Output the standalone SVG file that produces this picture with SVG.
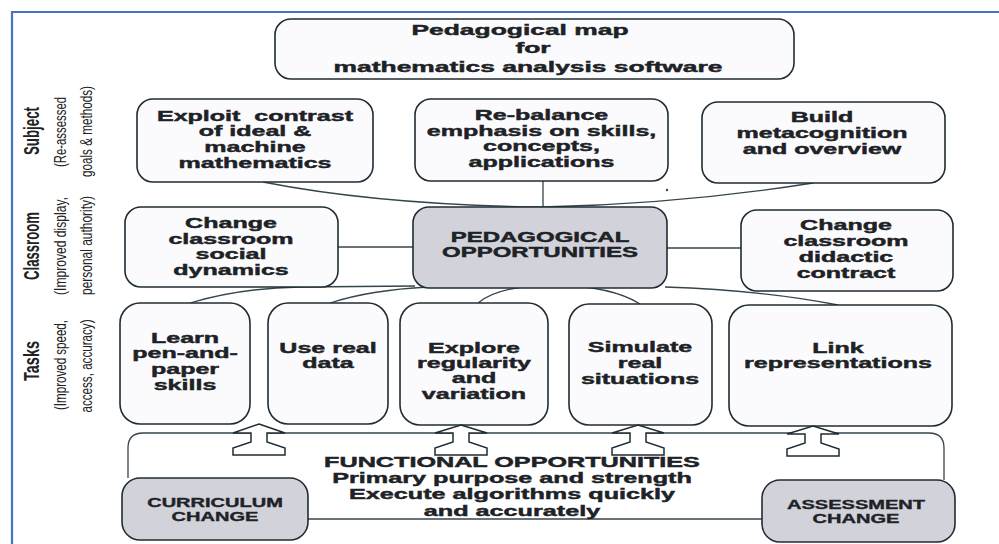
<svg xmlns="http://www.w3.org/2000/svg" width="999" height="544" viewBox="0 0 999 544">
<style>
.bg{fill:#ffffff}
.frame{fill:none;stroke:#4472c4;stroke-width:2.2}
.box{fill:#fbfbfd;stroke:#1f2c32;stroke-width:1.6}
.grey{fill:#d2d2da;stroke:#1f2c32;stroke-width:1.6}
.t{font-family:"Liberation Sans",Arial,sans-serif;font-weight:bold;font-size:15px;fill:#1d2226;stroke:#1d2226;stroke-width:0.45;text-anchor:middle}
.s{font-family:"Liberation Sans",Arial,sans-serif;font-weight:bold;font-size:12px;fill:#1d2226;stroke:#1d2226;stroke-width:0.35;text-anchor:middle}
.lm{font-family:"Liberation Sans",Arial,sans-serif;font-weight:bold;font-size:22px;fill:#222;text-anchor:middle}
.ls{font-family:"Liberation Sans",Arial,sans-serif;font-size:17px;fill:#222;text-anchor:middle}
.conn{fill:none;stroke:#34454c;stroke-width:1.3}
.arrow{fill:#ffffff;stroke:#1f2c32;stroke-width:1.5;stroke-linejoin:miter}
</style>
<rect class="bg" x="0" y="0" width="999" height="544"/>
<path class="frame" d="M12,546 L12,12 L1001,12"/>

<g id="side-labels">
  <text class="lm" transform="translate(39,131) rotate(-90)" textLength="48" lengthAdjust="spacingAndGlyphs">Subject</text>
  <text class="ls" transform="translate(66,132) rotate(-90)" textLength="70" lengthAdjust="spacingAndGlyphs">(Re-assessed</text>
  <text class="ls" transform="translate(92,131.5) rotate(-90)" textLength="91" lengthAdjust="spacingAndGlyphs">goals &amp; methods)</text>
  <text class="lm" transform="translate(39,246) rotate(-90)" textLength="68" lengthAdjust="spacingAndGlyphs">Classroom</text>
  <text class="ls" transform="translate(66,246) rotate(-90)" textLength="98" lengthAdjust="spacingAndGlyphs">(Improved display,</text>
  <text class="ls" transform="translate(92,245.5) rotate(-90)" textLength="99" lengthAdjust="spacingAndGlyphs">personal authority)</text>
  <text class="lm" transform="translate(39,361) rotate(-90)" textLength="40" lengthAdjust="spacingAndGlyphs">Tasks</text>
  <text class="ls" transform="translate(66,365) rotate(-90)" textLength="90" lengthAdjust="spacingAndGlyphs">(Improved speed,</text>
  <text class="ls" transform="translate(92,366) rotate(-90)" textLength="93" lengthAdjust="spacingAndGlyphs">access, accuracy)</text>
</g>

<g id="connectors">
  <path class="conn" d="M263,182 Q380,205 543,207"/>
  <path class="conn" d="M543,181 L543,207"/>
  <path class="conn" d="M813,183 Q680,204 543,207"/>
  <path class="conn" d="M338,247 L413,247"/>
  <path class="conn" d="M667,248 L741,248"/>
  <path class="conn" d="M190,303 Q240,288 300,287 L415,286"/>
  <path class="conn" d="M330,303 Q370,290 428,287"/>
  <path class="conn" d="M478,303 Q498,286 552,285 Q612,286 640,304"/>
  <path class="conn" d="M665,287 Q760,290 838,305"/>
  <path class="conn" d="M128,478 L128,448 Q128,433 143,433 L929,433 Q944,433 944,448 L944,480"/>
  <path class="conn" d="M308,519 L762,519"/>
  <circle cx="667" cy="190" r="1.2" fill="#34454c"/>
</g>

<g id="title">
  <rect class="box" x="275" y="19" width="519" height="60" rx="16"/>
  <g transform="translate(520,0) scale(1.76,1)"><text class="t" x="0" y="35">Pedagogical map</text></g>
  <g transform="translate(533,0) scale(1.76,1)"><text class="t" x="0" y="53">for</text></g>
  <g transform="translate(528,0) scale(1.76,1)"><text class="t" x="0" y="72">mathematics analysis software</text></g>
</g>

<g id="exploit-contrast">
  <rect class="box" x="137" y="99" width="236" height="83" rx="16"/>
  <g transform="translate(255,0) scale(1.67,1)">
    <text class="t" x="0" y="121" xml:space="preserve">Exploit  contrast</text>
    <text class="t" x="0" y="136">of ideal &amp;</text>
    <text class="t" x="0" y="152">machine</text>
    <text class="t" x="0" y="168">mathematics</text>
  </g>
</g>

<g id="rebalance-emphasis">
  <rect class="box" x="415" y="99" width="253" height="82" rx="16"/>
  <g transform="translate(541.5,0) scale(1.67,1)">
    <text class="t" x="0" y="120">Re-balance</text>
    <text class="t" x="0" y="136">emphasis on skills,</text>
    <text class="t" x="0" y="151">concepts,</text>
    <text class="t" x="0" y="167">applications</text>
  </g>
</g>

<g id="build-metacognition">
  <rect class="box" x="702" y="102" width="243" height="81" rx="16"/>
  <g transform="translate(822,0) scale(1.67,1)">
    <text class="t" x="0" y="122">Build</text>
    <text class="t" x="0" y="138">metacognition</text>
    <text class="t" x="0" y="154">and overview</text>
  </g>
</g>

<g id="social-dynamics">
  <rect class="box" x="125" y="207" width="213" height="80" rx="16"/>
  <g transform="translate(231,0) scale(1.67,1)">
    <text class="t" x="0" y="228">Change</text>
    <text class="t" x="0" y="244">classroom</text>
    <text class="t" x="0" y="259">social</text>
    <text class="t" x="0" y="275">dynamics</text>
  </g>
</g>

<g id="pedagogical-opportunities">
  <rect class="grey" x="413" y="207" width="254" height="81" rx="16"/>
  <g transform="translate(540,0) scale(1.6,1)">
    <text class="t" x="0" y="242">PEDAGOGICAL</text>
    <text class="t" x="0" y="257">OPPORTUNITIES</text>
  </g>
</g>

<g id="didactic-contract">
  <rect class="box" x="741" y="210" width="212" height="81" rx="16"/>
  <g transform="translate(846,0) scale(1.67,1)">
    <text class="t" x="0" y="230">Change</text>
    <text class="t" x="0" y="246">classroom</text>
    <text class="t" x="0" y="262">didactic</text>
    <text class="t" x="0" y="278">contract</text>
  </g>
</g>

<g id="learn-skills">
  <rect class="box" x="120" y="303" width="130" height="121" rx="20"/>
  <g transform="translate(185,0) scale(1.67,1)">
    <text class="t" x="0" y="343">Learn</text>
    <text class="t" x="0" y="358">pen-and-</text>
    <text class="t" x="0" y="374">paper</text>
    <text class="t" x="0" y="390">skills</text>
  </g>
</g>

<g id="real-data">
  <rect class="box" x="268" y="303" width="120" height="121" rx="20"/>
  <g transform="translate(328,0) scale(1.67,1)">
    <text class="t" x="0" y="353">Use real</text>
    <text class="t" x="0" y="368">data</text>
  </g>
</g>

<g id="explore-regularity">
  <rect class="box" x="400" y="303" width="148" height="122" rx="20"/>
  <g transform="translate(474,0) scale(1.67,1)">
    <text class="t" x="0" y="353">Explore</text>
    <text class="t" x="0" y="368">regularity</text>
    <text class="t" x="0" y="383">and</text>
    <text class="t" x="0" y="399">variation</text>
  </g>
</g>

<g id="simulate-situations">
  <rect class="box" x="569" y="304" width="143" height="121" rx="20"/>
  <g transform="translate(640,0) scale(1.67,1)">
    <text class="t" x="0" y="352">Simulate</text>
    <text class="t" x="0" y="368">real</text>
    <text class="t" x="0" y="384">situations</text>
  </g>
</g>

<g id="link-representations">
  <rect class="box" x="729" y="305" width="223" height="121" rx="20"/>
  <g transform="translate(838,0) scale(1.67,1)">
    <text class="t" x="0" y="353">Link</text>
    <text class="t" x="0" y="368">representations</text>
  </g>
</g>

<g id="arrows">
  <polygon class="arrow" points="259,424 285,433 267,433 267,442 285,448 285,455 233,455 233,448 251,442 251,433 233,433"/>
  <polygon class="arrow" points="461,425 487,433 469,433 469,442 487,448 487,455 435,455 435,448 453,442 453,433 435,433"/>
  <polygon class="arrow" points="638,425 664,433 646,433 646,442 664,448 664,455 612,455 612,448 630,442 630,433 612,433"/>
  <polygon class="arrow" points="813,426 839,434 821,434 821,443 839,449 839,456 787,456 787,449 805,443 805,434 787,434"/>
</g>

<g id="functional-opportunities">
  <g transform="translate(512,0) scale(1.68,1)">
    <text class="t" x="0" y="467">FUNCTIONAL OPPORTUNITIES</text>
    <text class="t" x="0" y="483">Primary purpose and strength</text>
    <text class="t" x="0" y="499">Execute algorithms quickly</text>
    <text class="t" x="0" y="516">and accurately</text>
  </g>
</g>

<g id="curriculum-change">
  <rect class="grey" x="122" y="478" width="186" height="62" rx="18"/>
  <g transform="translate(215,0) scale(1.67,1)">
    <text class="s" x="0" y="507">CURRICULUM</text>
    <text class="s" x="0" y="521">CHANGE</text>
  </g>
</g>

<g id="assessment-change">
  <rect class="grey" x="762" y="480" width="193" height="62" rx="18"/>
  <g transform="translate(856,0) scale(1.67,1)">
    <text class="s" x="0" y="509">ASSESSMENT</text>
    <text class="s" x="0" y="523">CHANGE</text>
  </g>
</g>
</svg>
